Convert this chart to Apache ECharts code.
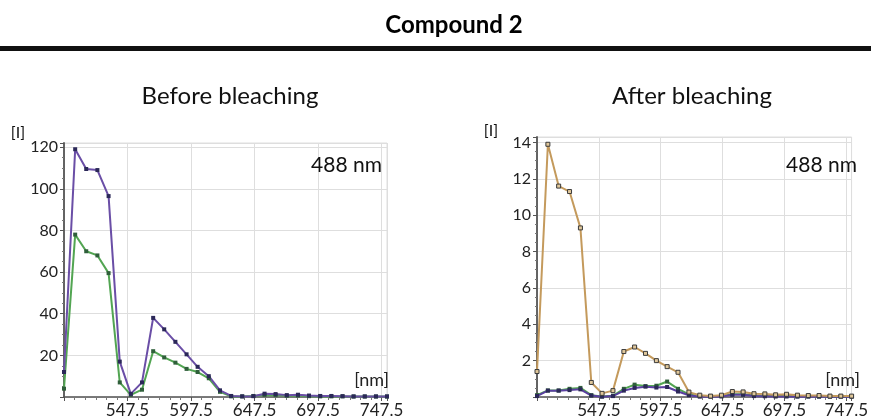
<!DOCTYPE html>
<html>
<head>
<meta charset="utf-8">
<script src="https://cdn.jsdelivr.net/npm/echarts@6/dist/echarts.min.js"></script>
<style>
  html, body { margin: 0; padding: 0; background: #fff; }
  #chart { width: 871px; height: 419px; }
</style>
</head>
<body>
<div id="chart"></div>
<script>
// channel centres (nm)
const wavelengths = [497.5, 506.3, 515.0, 523.8, 532.6, 541.4, 550.1, 558.9, 567.7, 576.4,
  585.2, 594.0, 602.7, 611.5, 620.3, 629.1, 637.8, 646.6, 655.4, 664.1,
  672.9, 681.7, 690.4, 699.2, 708.0, 716.8, 725.5, 734.3, 743.1, 751.8];

// before bleaching
const beforePurple = [12, 119, 109.5, 109, 96.5, 17, 1.5, 7, 38, 32.5,
  26.5, 20.5, 14.5, 10, 3.2, 0.5, 0.3, 0.4, 1.6, 1.4,
  0.9, 1.1, 0.7, 0.5, 0.5, 0.4, 0.3, 0.3, 0.3, 0.3];
const beforeGreen = [4, 78, 70, 68, 59.5, 7, 1, 3.5, 22, 19,
  16.5, 13.5, 12, 9, 2.5, 0.3, 0.3, 0.5, 1.0, 0.9,
  0.6, 0.7, 0.4, 0.3, 0.3, 0.3, 0.2, 0.2, 0.2, 0.2];

// after bleaching
const afterOrange = [1.4, 13.9, 11.6, 11.3, 9.3, 0.8, 0.2, 0.35, 2.5, 2.75,
  2.4, 2.0, 1.67, 1.36, 0.27, 0.1, 0.05, 0.1, 0.3, 0.28,
  0.18, 0.17, 0.12, 0.15, 0.1, 0.08, 0.08, 0.05, 0.05, 0.05];
const afterGreen = [0.1, 0.36, 0.36, 0.45, 0.5, 0.1, 0.03, 0.07, 0.45, 0.68,
  0.6, 0.62, 0.85, 0.45, 0.14, 0.05, 0.04, 0.05, 0.15, 0.15,
  0.08, 0.06, 0.05, 0.05, 0.04, 0.04, 0.03, 0.03, 0.03, 0.03];
const afterPurple = [0.05, 0.35, 0.35, 0.38, 0.42, 0.08, 0.02, 0.05, 0.35, 0.5,
  0.57, 0.52, 0.55, 0.3, 0.1, 0.02, 0.02, 0.03, 0.12, 0.12,
  0.05, 0.04, 0.03, 0.03, 0.02, 0.02, 0.02, 0.02, 0.02, 0.02];

const xTicks = [547.5, 597.5, 647.5, 697.5, 747.5];
const SHIFT = 497.5; // axis starts here, ticks every 50 nm from it

const FONT = 'Lato';

function pairs(vals) {
  return vals.map((v, i) => [wavelengths[i] - SHIFT, v]);
}

function xAxisFor(idx) {
  return {
    type: 'value', gridIndex: idx, min: 0, max: 254.3, interval: 50,
    axisLine: { show: true, lineStyle: { color: '#555', width: 1.5 } },
    axisTick: { show: true, length: 4, lineStyle: { color: '#555' } },
    minorTick: { show: true, splitNumber: 6, length: 3, lineStyle: { color: '#777' } },
    splitLine: { show: true, lineStyle: { color: '#dedede', width: 1 } },
    axisLabel: {
      fontFamily: FONT, fontSize: 17, color: '#222', margin: 5,
      formatter: v => {
        const nm = v + SHIFT;
        return xTicks.indexOf(nm) >= 0 ? nm.toFixed(1) : '';
      }
    }
  };
}

function yAxisFor(idx, max, step, minorSplit) {
  return {
    type: 'value', gridIndex: idx, min: 0, max: max, interval: step,
    axisLine: { show: true, lineStyle: { color: '#555', width: 1.8 } },
    axisTick: { show: true, length: 4, lineStyle: { color: '#555' } },
    minorTick: { show: true, splitNumber: minorSplit, length: 2, lineStyle: { color: '#777' } },
    splitLine: { show: true, lineStyle: { color: '#dedede', width: 1 } },
    axisLabel: {
      fontFamily: FONT, fontSize: 16, color: '#222', margin: 6,
      formatter: v => (v > 0 && Math.abs(v / step - Math.round(v / step)) < 1e-6) ? String(v) : ''
    }
  };
}

function line(name, data, idx, color, markColor, border) {
  return {
    name: name, type: 'line', xAxisIndex: idx, yAxisIndex: idx,
    data: pairs(data),
    symbol: 'rect', symbolSize: 4, showSymbol: true,
    lineStyle: { color: color, width: 2 },
    itemStyle: border ? { color: '#e0c79a', borderColor: markColor, borderWidth: 1 } : { color: markColor },
    animation: false
  };
}

const chart = echarts.init(document.getElementById('chart'));

chart.setOption({
  backgroundColor: '#fff',
  animation: false,
  grid: [
    { left: 64, right: 484, top: 143, bottom: 17, show: true, borderColor: '#dedede', borderWidth: 1 },
    { left: 537, right: 9, top: 137, bottom: 19, show: true, borderColor: '#dedede', borderWidth: 1 }
  ],
  xAxis: [xAxisFor(0), xAxisFor(1)],
  yAxis: [yAxisFor(0, 122, 20, 4), yAxisFor(1, 14.3, 2, 4)],
  series: [
    line('green', beforeGreen, 0, '#52a552', '#2f5f3a'),
    line('purple', beforePurple, 0, '#6a4ea6', '#2b2858'),
    line('green', afterGreen, 1, '#52a552', '#2f5f3a'),
    line('purple', afterPurple, 1, '#5a3fa0', '#2b2858'),
    line('orange', afterOrange, 1, '#c49a5c', '#3a3a3a', true)
  ],
  graphic: [
    { type: 'text', z: 100, x: 454, y: 25, style: { text: 'Compound 2', font: 'bold 24px ' + FONT, fill: '#000', align: 'center', verticalAlign: 'middle' } },
    { type: 'rect', z: 100, shape: { x: 0, y: 46, width: 871, height: 5 }, style: { fill: '#111' } },
    { type: 'text', z: 100, x: 230, y: 96, style: { text: 'Before bleaching', font: '24px ' + FONT, fill: '#111', align: 'center', verticalAlign: 'middle' } },
    { type: 'text', z: 100, x: 692, y: 96, style: { text: 'After bleaching', font: '24px ' + FONT, fill: '#111', align: 'center', verticalAlign: 'middle' } },
    { type: 'text', z: 100, x: 18, y: 133, style: { text: '[I]', font: '16px ' + FONT, fill: '#111', align: 'center', verticalAlign: 'middle' } },
    { type: 'text', z: 100, x: 491, y: 131, style: { text: '[I]', font: '16px ' + FONT, fill: '#111', align: 'center', verticalAlign: 'middle' } },
    { type: 'text', z: 100, x: 382, y: 165, style: { text: '488 nm', font: '21px ' + FONT, fill: '#111', align: 'right', verticalAlign: 'middle' } },
    { type: 'text', z: 100, x: 857, y: 165, style: { text: '488 nm', font: '21px ' + FONT, fill: '#111', align: 'right', verticalAlign: 'middle' } },
    { type: 'text', z: 100, x: 389, y: 380, style: { text: '[nm]', font: '18px ' + FONT, fill: '#222', align: 'right', verticalAlign: 'middle' } },
    { type: 'text', z: 100, x: 860, y: 380, style: { text: '[nm]', font: '18px ' + FONT, fill: '#222', align: 'right', verticalAlign: 'middle' } }
  ]
});
</script>
</body>
</html>
